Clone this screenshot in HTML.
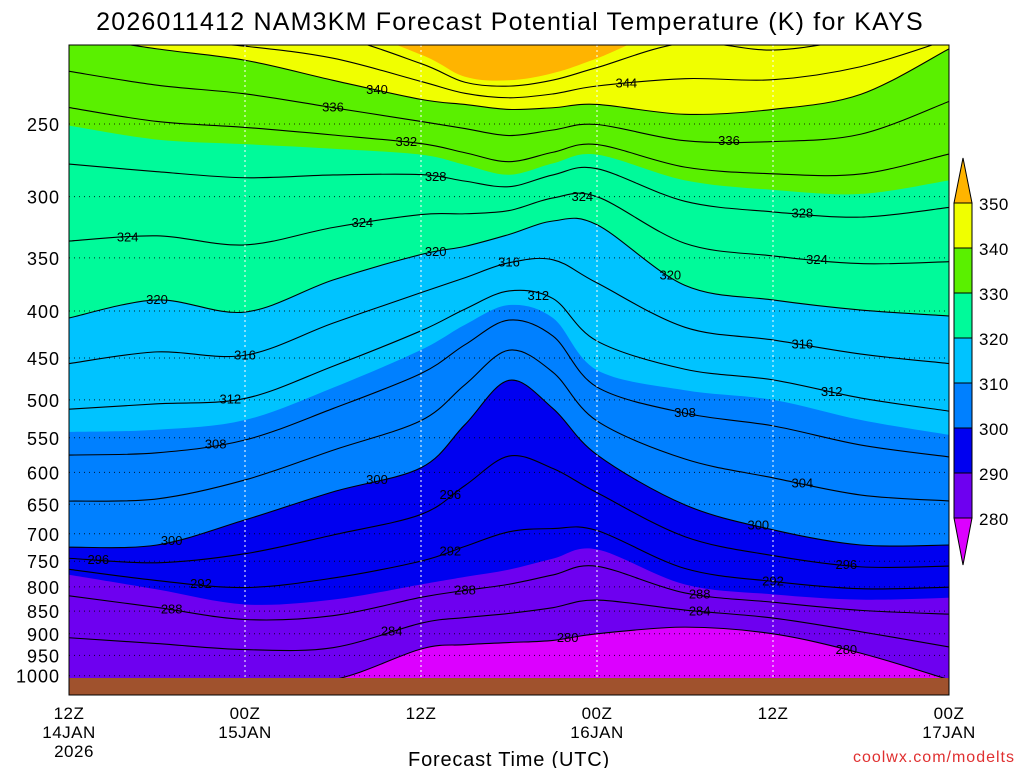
<!DOCTYPE html>
<html><head><meta charset="utf-8">
<style>
html,body{margin:0;padding:0;background:#fff;}
body{width:1024px;height:768px;overflow:hidden;font-family:"Liberation Sans",sans-serif;}
svg text{font-family:"Liberation Sans",sans-serif;}
</style></head>
<body>
<svg id="chart" width="1024" height="768" xmlns="http://www.w3.org/2000/svg">
<text x="510" y="30" font-size="25" text-anchor="middle" letter-spacing="1.2" fill="#000">2026011412 NAM3KM Forecast Potential Temperature (K) for KAYS</text>
<defs><clipPath id="plotclip"><rect x="69" y="45" width="880" height="650"/></clipPath></defs>
<g id="plot" clip-path="url(#plotclip)"></g>
<g id="axes"></g>
<g id="cbar"></g>
<text x="509" y="766" font-size="20" text-anchor="middle" letter-spacing="0.8">Forecast Time (UTC)</text>
<text x="1015" y="762" font-size="16" text-anchor="end" fill="#e03030" letter-spacing="1">coolwx.com/modelts</text>
</svg>
<script>
const times=[0,6,12,18,24,27,30,33,36,42,48,54,60];
const levels=[280,290,300,310,320,330,340,350];
const p280=[1010,1010,1010,1010,935,925,920,915,900,885,900,945,1010];
const p290=[776,805,836,826,795,780,766,745,728,795,815,826,822];
const p300=[724,720,676,630,593,532,476,511,574,651,693,720,720];
const p310=[542,539,526,485,441,414,394,407,464,488,500,526,546];
const p320=[407,389,401,370,347,340,330,319,322,375,389,399,405];
const p330=[251,260,263,266,270,277,284,276,270,288,295,298,288];
const p340=[200,207,213,224,235,238,241,240,238,244,241,232,207];
const p350=[195,195,195,195,210,222,224,220,212,195,200,195,195];
const levelP=[p280,p290,p300,p310,p320,p330,p340,p350];
const colors=["#dc00ff","#6e00f0","#0000f0","#0080ff","#00c3ff","#00fa9a","#5af000","#f0ff00","#ffb400"];
const cbarLabels=["280","290","300","310","320","330","340","350"];
const yTicks=[250,300,350,400,450,500,550,600,650,700,750,800,850,900,950,1000];
const xTicks=[0,12,24,36,48,60];
const xTickLabels=[["12Z","14JAN","2026"],["00Z","15JAN"],["12Z"],["00Z","16JAN"],["12Z"],["00Z","17JAN"]];
const contourLabels=[[336,18],[340,21],[344,38],[348,42],[332,23],[328,25],[324,4],[324,20],[320,25],[316,30],[312,32],[324,35],[336,45],[328,50],[324,51],[320,41],[316,50],[312,52],[320,6],[316,12],[312,11],[308,10],[300,21],[296,26],[292,26],[288,27],[284,22],[280,34],[300,7],[296,2],[292,9],[288,7],[308,42],[304,50],[300,47],[296,53],[292,48],[288,43],[284,43],[280,53]];

const NS="http://www.w3.org/2000/svg";
const X=t=>69+t*880/60;
const Y=p=>124+398*(Math.log(p)-Math.log(250));
function pAt(theta,i){
  let k=Math.floor((theta-280)/10);k=Math.max(0,Math.min(levels.length-2,k));
  const f=(theta-levels[k])/10;
  return Math.exp(Math.log(levelP[k][i])*(1-f)+Math.log(levelP[k+1][i])*f);
}
function pAtT(theta,t){
  let j=0;while(j<times.length-2&&times[j+1]<=t)j++;
  const f=(t-times[j])/(times[j+1]-times[j]);
  return Math.exp(Math.log(pAt(theta,j))*(1-f)+Math.log(pAt(theta,j+1))*f);
}
function spline(pts){
  let d="M"+pts[0][0]+","+pts[0][1];
  for(let i=0;i<pts.length-1;i++){
    const p0=pts[Math.max(0,i-1)],p1=pts[i],p2=pts[i+1],p3=pts[Math.min(pts.length-1,i+2)];
    const c1=[p1[0]+(p2[0]-p0[0])/6,p1[1]+(p2[1]-p0[1])/6];
    const c2=[p2[0]-(p3[0]-p1[0])/6,p2[1]-(p3[1]-p1[1])/6];
    d+=" C"+c1[0]+","+c1[1]+" "+c2[0]+","+c2[1]+" "+p2[0]+","+p2[1];
  }
  return d;
}
function mk(tag,attrs,parent){const e=document.createElementNS(NS,tag);for(const k in attrs)e.setAttribute(k,attrs[k]);parent.appendChild(e);return e;}
const plot=document.getElementById('plot');
const axes=document.getElementById('axes');
const cbar=document.getElementById('cbar');

const bg=mk('rect',{x:69,y:45,width:880,height:650,fill:colors[0]},plot);


levels.forEach((lv,k)=>{
  const pts=times.map((t,i)=>[X(t),Y(levelP[k][i])]);
  const d=spline(pts)+" L949,0 L69,0 Z";
  const e=mk('path',{d:d,fill:colors[k+1]},plot);
  
  
});
for(let th=280;th<=348;th+=4){
  const pts=times.map((t,i)=>[X(t),Y(pAt(th,i))]);
  const e=mk('path',{d:spline(pts),fill:'none',stroke:'#000','stroke-width':1.1},plot);
  
  
}
yTicks.forEach(p=>{
  const g=mk('line',{x1:69,x2:949,y1:Y(p),y2:Y(p),stroke:'#000','stroke-width':1,'stroke-dasharray':'1,4',opacity:0.8},plot);
  
  
});
xTicks.forEach(t=>{
  const g=mk('line',{x1:X(t),x2:X(t),y1:45,y2:695,stroke:'#fff','stroke-width':1,'stroke-dasharray':'2,3'},plot);
  
  
});
contourLabels.forEach(([th,t])=>{
  const y=Y(pAtT(th,t));
  if(y>675||y<50)return;
  const e=mk('text',{x:X(t),y:y+4,'font-size':13,'text-anchor':'middle',fill:'#000'},plot);
  e.textContent=th;
  
  
});
const gr=mk('rect',{x:69,y:678,width:880,height:17,fill:'#a0522d'},plot);


const fr=mk('rect',{x:69,y:45,width:880,height:650,fill:'none',stroke:'#000','stroke-width':1},axes);


yTicks.forEach(p=>{
  const e=mk('text',{x:60,y:Y(p)+7,'font-size':18,'text-anchor':'end','letter-spacing':1},axes);
  e.textContent=p;
  
  
});
xTicks.forEach((t,i)=>{
  xTickLabels[i].forEach((s,j)=>{
    const e=mk('text',{x:X(t)+(j==2?5:0),y:719+j*19,'font-size':17,'text-anchor':'middle','letter-spacing':0.5},axes);
    e.textContent=s;
    
    
  });
});
const cbX=954,cbW=18,cbTop=203,cbH=45;
const tri1=mk('path',{d:`M${cbX},${cbTop} L${cbX+cbW/2},158 L${cbX+cbW},${cbTop} Z`,fill:colors[8],stroke:'#000'},cbar);


for(let k=0;k<7;k++){
  const e=mk('rect',{x:cbX,y:cbTop+k*cbH,width:cbW,height:cbH,fill:colors[7-k],stroke:'#000'},cbar);
  
  
}
const tri2=mk('path',{d:`M${cbX},${cbTop+7*cbH} L${cbX+cbW/2},565 L${cbX+cbW},${cbTop+7*cbH} Z`,fill:colors[0],stroke:'#000'},cbar);


cbarLabels.forEach((s,k)=>{
  const e=mk('text',{x:979,y:cbTop+(7-k)*cbH+7,'font-size':17,'letter-spacing':0.5},cbar);
  e.textContent=s;
  
  
});
</script>
</body></html>
